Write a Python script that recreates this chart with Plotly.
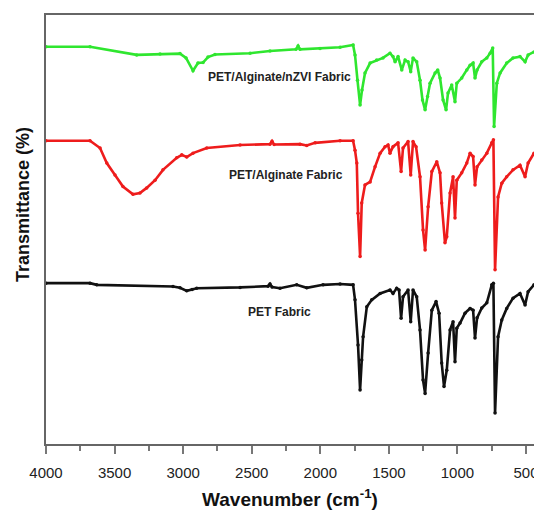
import plotly.graph_objects as go

# Wavenumber (cm-1) and transmittance (%, offset spectra)
wn_nzvi = [4000, 3679, 3339, 3169, 3023, 2979, 2928, 2892, 2855, 2819, 2768, 2512, 2367, 2177, 2162, 2148, 2002, 1856, 1761,
           1747, 1729, 1710, 1696, 1674, 1637, 1589, 1543, 1492, 1470, 1455, 1433, 1406, 1382, 1360, 1341, 1324, 1297,
           1273, 1255, 1236, 1218, 1200, 1163, 1144, 1127, 1105, 1083, 1069, 1042, 1018, 1005, 969, 932, 908, 886, 872,
           857, 823, 786, 762, 743, 733, 713, 689, 641, 595, 544, 507, 485, 442]
t_nzvi = [92.6, 92.6, 90.7, 90.9, 91.0, 90.0, 87.0, 88.8, 88.9, 90.2, 90.8, 91.1, 91.6, 92.0, 92.8, 92.0, 92.2, 92.5, 93.0,
          90.7, 84.8, 79.0, 82.5, 86.5, 88.8, 89.5, 90.0, 91.1, 90.3, 89.1, 90.3, 87.2, 89.5, 89.1, 86.8, 90.0, 89.1,
          84.8, 80.2, 77.9, 81.0, 84.1, 86.5, 87.2, 85.3, 80.2, 77.9, 81.8, 83.7, 79.8, 84.1, 85.3, 87.2, 88.3, 88.8, 85.3,
          87.2, 89.1, 90.0, 91.1, 92.3, 74.0, 84.1, 86.5, 88.8, 90.0, 90.3, 89.1, 90.7, 91.4]

wn_alg = [4000, 3679, 3606, 3557, 3497, 3439, 3366, 3315, 3266, 3205, 3147, 3047, 3010, 2974, 2928, 2828, 2585, 2367, 2352,
          2337, 2148, 2099, 2038, 1856, 1761, 1747, 1734, 1725, 1710, 1698, 1674, 1637, 1601, 1564, 1528, 1506, 1492,
          1470, 1433, 1411, 1397, 1360, 1341, 1324, 1302, 1273, 1251, 1236, 1214, 1187, 1151, 1127, 1115, 1091, 1078,
          1054, 1032, 1018, 1005, 969, 932, 908, 886, 872, 857, 823, 786, 750, 738, 726, 704, 677, 641, 595, 544, 507,
          485, 442]
t_alg = [70.7, 70.7, 69.0, 65.5, 62.7, 60.0, 58.2, 58.5, 59.7, 61.5, 63.9, 66.7, 67.4, 66.9, 67.8, 69.0, 69.7, 69.9, 70.6,
         69.8, 69.9, 69.6, 70.2, 70.7, 70.7, 68.5, 65.5, 53.8, 43.7, 56.2, 60.4, 61.1, 64.6, 67.8, 69.3, 69.7, 67.8,
         69.3, 70.2, 63.5, 69.0, 70.5, 62.7, 70.5, 69.3, 62.3, 49.9, 45.2, 55.3, 63.5, 65.8, 63.2, 56.2, 46.9, 48.3,
         58.5, 62.3, 52.7, 61.5, 63.2, 65.5, 67.8, 67.0, 60.4, 64.6, 66.2, 67.8, 70.2, 70.9, 40.6, 57.6, 60.8, 62.3,
         63.9, 65.0, 62.3, 65.5, 67.8]

wn_pet = [4000, 3679, 3630, 3074, 3023, 2974, 2935, 2901, 2585, 2381, 2367, 2352, 2294, 2172, 2099, 1980, 1856, 1761,
          1747, 1725, 1710, 1698, 1688, 1661, 1625, 1564, 1492, 1470, 1443, 1426, 1411, 1397, 1360, 1341, 1324, 1297,
          1273, 1251, 1236, 1214, 1187, 1156, 1134, 1115, 1098, 1078, 1054, 1032, 1018, 1005, 981, 945, 908, 886, 872,
          857, 823, 786, 750, 738, 726, 704, 677, 641, 595, 544, 507, 485, 442]
t_pet = [37.5, 37.5, 37.1, 36.7, 36.4, 35.7, 36.0, 36.3, 36.5, 36.8, 37.3, 36.6, 36.3, 37.1, 36.4, 37.1, 37.3, 37.1,
         33.6, 23.1, 12.6, 19.6, 25.0, 32.0, 33.6, 35.1, 35.9, 35.1, 36.3, 35.9, 29.3, 34.3, 35.9, 28.5, 35.9, 34.3,
         26.6, 14.9, 11.8, 21.2, 31.2, 33.2, 30.5, 18.9, 13.4, 17.2, 26.6, 28.5, 19.2, 27.0, 28.2, 30.5, 31.6, 31.2, 24.7,
         29.4, 31.7, 32.9, 37.1, 37.5, 7.2, 25.0, 28.9, 31.6, 34.0, 35.1, 32.4, 35.5, 37.1]

labels = ["PET/Alginate/nZVI Fabric", "PET/Alginate Fabric", "PET Fabric"]
label_wn = [2301, 2250, 2294]
label_t = [85.5, 62.7, 30.8]
x_ticks = [4000, 3500, 3000, 2500, 2000, 1500, 1000, 500]

series = [(wn_nzvi, t_nzvi, "#2fe62f"), (wn_alg, t_alg, "#ee1c1c"), (wn_pet, t_pet, "#111111")]

fig = go.Figure()
for xs, ys, col in series:
    fig.add_trace(go.Scatter(x=xs, y=ys, mode="lines+markers",
                             line=dict(color=col, width=2.6),
                             marker=dict(color=col, size=3.5), showlegend=False))

for txt, xv, yv in zip(labels, label_wn, label_t):
    fig.add_annotation(x=xv, y=yv, text="<b>" + txt + "</b>", showarrow=False,
                       font=dict(family="Liberation Sans Narrow, Liberation Sans, Arial", size=12, color="#222222"))

fig.add_annotation(xref="paper", yref="paper", x=-0.047, y=0.557, text="<b>Transmittance (%)</b>",
                   textangle=-90, showarrow=False, xanchor="center", yanchor="middle",
                   font=dict(family="Liberation Sans Narrow, Liberation Sans, Arial", size=18, color="#111111"))

fig.update_layout(
    width=534, height=513,
    margin=dict(l=46, r=0, t=15, b=69),
    paper_bgcolor="white", plot_bgcolor="white",
    font=dict(family="Liberation Sans, Arial", color="#222222"),
    xaxis=dict(range=[4000, 442], tickvals=x_ticks, ticks="outside", ticklen=8, tickwidth=1.5,
               tickcolor="#777777", showline=True, linecolor="#666666", linewidth=1.5, mirror=True,
               showgrid=False, zeroline=False, tickfont=dict(size=15, color="#222222"),
               ticklabelstandoff=6, ticklabeloverflow="allow", automargin=False,
               minor=dict(dtick=250, tick0=0, ticks="outside", ticklen=5, tickcolor="#777777", tickwidth=1.5),
               title=dict(text="<b>Wavenumber (cm<sup>-1</sup>)</b>", standoff=13,
                          font=dict(family="Liberation Sans Narrow, Liberation Sans, Arial", size=19, color="#111111"))),
    yaxis=dict(range=[0, 100], showticklabels=False, ticks="", showline=True, linecolor="#666666",
               linewidth=1.5, showgrid=False, zeroline=False, automargin=False),
)

fig.write_html("out.html", config={"displayModeBar": False},
               post_script="document.body.style.margin='0px';")
